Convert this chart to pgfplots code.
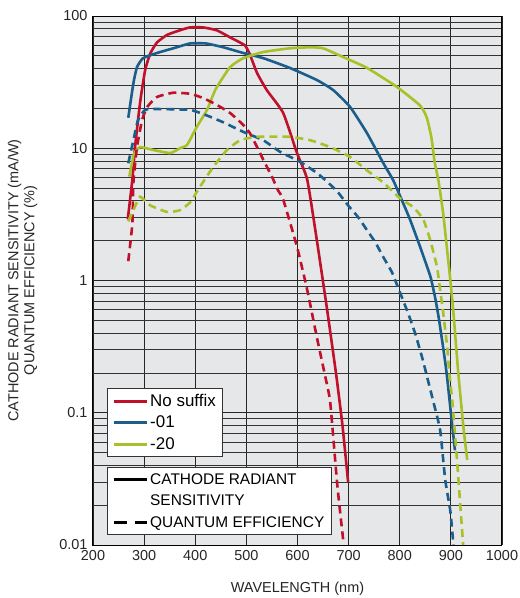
\documentclass[border=0pt]{standalone}
\usepackage{fontspec}
\setmainfont{Liberation Sans}
\usepackage{pgfplots}
\pgfplotsset{compat=1.18}
\definecolor{cred}{HTML}{C0102A}
\definecolor{cblue}{HTML}{1B5E8C}
\definecolor{cgreen}{HTML}{A8C128}
\definecolor{bgc}{HTML}{E6E7E9}
\pgfplotsset{
  curve/.style={line width=2.6bp, smooth, tension=0.3},
  qe/.style={line width=2.6bp, smooth, tension=0.3, dash pattern=on 8bp off 5bp},
}
\begin{document}
\begin{tikzpicture}
\path[use as bounding box] (-93bp,-53bp) rectangle (427bp,545bp);
\begin{axis}[
  at={(0,0)}, anchor=south west,
  scale only axis, width=409bp, height=529bp,
  xmin=200, xmax=1000, ymin=0.01, ymax=100,
  ymode=log, log ticks with fixed point,
  xtick={200,300,...,1000},
  /pgf/number format/1000 sep={},
  /pgf/number format/assume math mode=true,
  grid=both,
  major grid style={draw=black!85, line width=0.8bp},
  minor grid style={draw=black!80, line width=0.8bp},
  major tick length=0pt, minor tick length=0pt,
  axis line style={line width=1bp},
  axis background/.style={fill=bgc},
  tick label style={font=\fontsize{14.5}{17}\selectfont, text=black!85},
  xticklabel style={yshift=-2bp},
  yticklabel style={xshift=-2bp},
  xlabel={WAVELENGTH (nm)},
  xlabel style={font=\fontsize{14.5}{17}\selectfont, text=black!85, at={(axis description cs:0.5,-0.0794)}, anchor=center, yshift=-2bp},
  ylabel={CATHODE RADIANT SENSITIVITY (mA/W)\\QUANTUM EFFICIENCY (\%)},
  ylabel style={font=\fontsize{14.5}{16}\selectfont, text=black!85, align=center, at={(axis description cs:-0.172,0.5)}, anchor=center},
  legend image code/.code={\draw[#1, line width=2.8bp] (0bp,0bp) -- (33bp,0bp);},
  legend style={at={(axis description cs:0.034,0.297)}, anchor=north west,
    draw=black!80, line width=1bp, fill=white,
    font=\fontsize{17}{19}\selectfont, cells={anchor=west},
    inner xsep=5bp, inner ysep=4bp, row sep=4bp},
]
\addplot[cred, curve] table {
268 2.9
277 5.8
282 10
292 22
302 39
312 52
325 63
345 72
370 78
390 82
415 82
442 78
468 69
497 60
507 51
521 37
540 27.5
572 18.5
599 9.2
619 5.8
638 2.0
658 0.6
676 0.19
688 0.08
699 0.03
};
\addlegendentry{No suffix}
\addplot[cblue, curve] table {
269 17
279 31
286 41
298 48
325 52.5
357 57
390 62
421 62
455 58
494 52.5
533 48
585 40.5
638 32.8
670 27.5
703 20.5
736 13
768 7.7
787 5.75
804 4.06
820 2.9
840 1.79
860 1.07
869 0.75
876 0.53
883 0.35
889 0.24
893 0.18
900 0.1
908 0.052
};
\addlegendentry{-01}
\addplot[cgreen, curve] table {
271 6.1
280 9
292 10.2
318 9.7
351 9.2
370 10
384 10.6
403 14.5
423 19.5
440 28
468 41
494 48
533 53.4
585 57
625 58
650 57
689 49
736 40.5
795 29
840 21
853 17
862 12
868 8
876 5.6
885 3.2
892 1.8
899 1.0
905 0.57
915 0.19
925 0.075
932 0.044
};
\addlegendentry{-20}
\addplot[cred, qe, forget plot] table {
269 1.4
277 2.7
279 5.5
286 10.2
296 16.3
306 20.5
325 24.4
357 26.3
390 25.8
415 24
442 21.3
468 18.5
494 15
507 13
521 10.2
533 8.2
550 6.1
562 4.8
572 4.1
599 1.8
619 0.85
638 0.37
654 0.19
664 0.12
678 0.028
690 0.0104
};
\addplot[cblue, qe, forget plot] table {
269 7.7
279 11.5
288 16.3
302 19.5
325 19.8
390 19.5
421 17.8
455 15.7
494 13.3
533 11.5
566 9.4
605 7.9
638 6.5
660 5.5
680 4.6
699 3.7
719 3.0
736 2.4
752 1.95
768 1.5
785 1.15
800 0.82
816 0.57
830 0.40
844 0.26
853 0.19
866 0.12
879 0.074
889 0.031
899 0.018
905 0.01
};
\addplot[cgreen, qe, forget plot] table {
269 2.8
279 3.4
292 4.3
312 3.7
345 3.3
370 3.4
390 3.9
409 5.1
435 7.2
462 9.7
488 11.5
521 12.2
585 12.2
625 11.5
664 10.2
703 8.6
736 6.8
768 5.5
800 4.2
826 3.6
846 2.9
860 2.0
873 1.26
879 0.85
885 0.57
893 0.31
897 0.2
903 0.12
912 0.044
918 0.021
924 0.01
};
\end{axis}
\begin{axis}[
  at={(0,0)}, anchor=south west,
  scale only axis, width=409bp, height=529bp,
  hide axis, xmin=0, xmax=1, ymin=0, ymax=1,
  legend image code/.code={\draw[#1, line width=2.8bp] (0bp,0bp) -- (33bp,0bp);},
  legend style={at={(axis description cs:0.034,0.147)}, anchor=north west,
    draw=black!80, line width=1bp, fill=white,
    font=\fontsize{15.5}{18}\selectfont, cells={anchor=west},
    inner xsep=5bp, inner ysep=4bp, row sep=5bp},
]
\addlegendimage{black}
\addlegendentry{CATHODE RADIANT}
\addlegendimage{empty legend}
\addlegendentry{SENSITIVITY}
\addlegendimage{black, dash pattern=on 13bp off 8bp}
\addlegendentry{QUANTUM EFFICIENCY}
\end{axis}
\end{tikzpicture}
\end{document}
